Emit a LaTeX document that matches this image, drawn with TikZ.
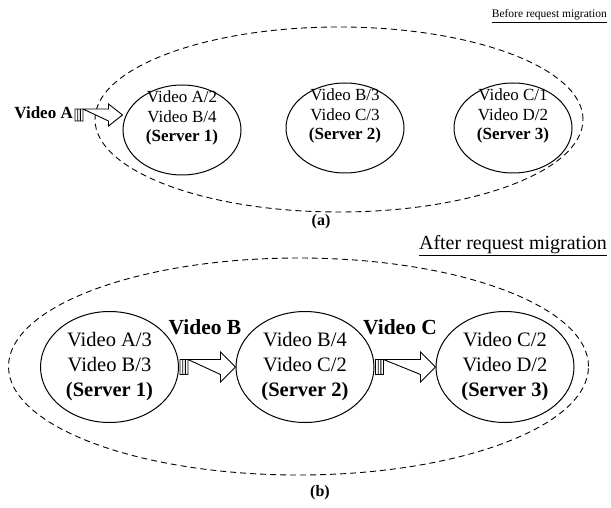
\documentclass[tikz,border=0pt]{standalone}
\usepackage{fontspec}
\setmainfont{Liberation Serif}
\usetikzlibrary{shapes.geometric,calc}

% hollow block arrow with a striped tail: #1 tail, #2 tip,
% #3 shaft half-height, #4 head half-height, #5 head length
\newcommand\migarrow[5]{%
  \draw[flow] let \p1=#1, \p2=#2 in
    (\x1,\y2-#3) rectangle (\x1+8,\y2+#3)
    (\x1+2.7,\y2-#3) -- (\x1+2.7,\y2+#3)
    (\x1+5.3,\y2-#3) -- (\x1+5.3,\y2+#3)
    (\x1+8,\y2+#3) -- (\x2-#5,\y2+#3) -- (\x2-#5,\y2+#4) -- (\x2,\y2)
      -- (\x2-#5,\y2-#4) -- (\x2-#5,\y2-#3) -- cycle;
}

\begin{document}
\begin{tikzpicture}[x=1pt,y=1pt,
  server/.style={draw, ellipse, line width=1pt, inner sep=0pt},
  srvA/.style={server, minimum width=118pt, minimum height=90pt},
  srvB/.style={server, minimum width=138pt, minimum height=111pt},
  group/.style={draw, ellipse, dash pattern=on 6pt off 4pt, line width=0.9pt, inner sep=0pt},
  txtA/.style={align=center, font=\fontsize{17}{19.5}\selectfont, inner sep=0pt},
  txtB/.style={align=center, font=\fontsize{20.5}{25}\selectfont, inner sep=0pt},
  subcap/.style={font=\fontsize{16}{18}\selectfont\bfseries, inner sep=0pt},
  flow/.style={line width=0.9pt, fill=white},
]
\useasboundingbox (0,0) rectangle (611,-508);

% ---------- (a) before migration ----------
\node[anchor=base east, inner sep=0pt, font=\fontsize{11.5}{14}\selectfont]
  (titleA) at (607,-18) {\underline{Before request migration}};
\node[group, minimum width=488pt, minimum height=185pt] (grpA) at (339,-119.5) {};

\node[srvA] (s1a) at (182,-130) {};
\node[srvA] (s2a) at (345,-128) {};
\node[srvA] (s3a) at (513,-128) {};
\node[txtA] (t1a) at ([yshift=12]s1a.center) {Video A/2\\Video B/4\\\textbf{(Server 1)}};
\node[txtA] (t2a) at ([yshift=12]s2a.center) {Video B/3\\Video C/3\\\textbf{(Server 2)}};
\node[txtA] (t3a) at ([yshift=12]s3a.center) {Video C/1\\Video D/2\\\textbf{(Server 3)}};

\coordinate (srcA) at (75,-114);
\node[inner sep=0pt, anchor=east, font=\fontsize{17}{19.5}\selectfont\bfseries] (lblA) at (73,-113) {Video A};
\migarrow{(srcA)}{($(s1a.west)+(0,15)$)}{6}{11}{14}

\node[subcap] (capA) at (321,-222) {(a)};

% ---------- (b) after migration ----------
\node[anchor=base east, inner sep=0pt, font=\fontsize{20}{24}\selectfont]
  (titleB) at (607,-249) {\underline{After request migration}};
\node[group, minimum width=580pt, minimum height=217pt] (grpB) at (298.5,-366.5) {};

\node[srvB, txtB] (s1b) at (109.5,-367) {Video A/3\\Video B/3\\\textbf{(Server 1)}};
\node[srvB, txtB] (s2b) at (305,-367) {Video B/4\\Video C/2\\\textbf{(Server 2)}};
\node[srvB, txtB] (s3b) at (505,-367) {Video C/2\\Video D/2\\\textbf{(Server 3)}};

\migarrow{($(s1b.east)+(1,0)$)}{(s2b.west)}{7.5}{15}{15}
\migarrow{($(s2b.east)+(1,0)$)}{(s3b.west)}{7.5}{15}{15}
\node[inner sep=0pt, font=\fontsize{21.5}{25}\selectfont\bfseries] (lblB) at (205,-327) {Video B};
\node[inner sep=0pt, font=\fontsize{21.5}{25}\selectfont\bfseries] (lblC) at (400,-327) {Video C};

\node[subcap] (capB) at (320,-493) {(b)};
\end{tikzpicture}
\end{document}
